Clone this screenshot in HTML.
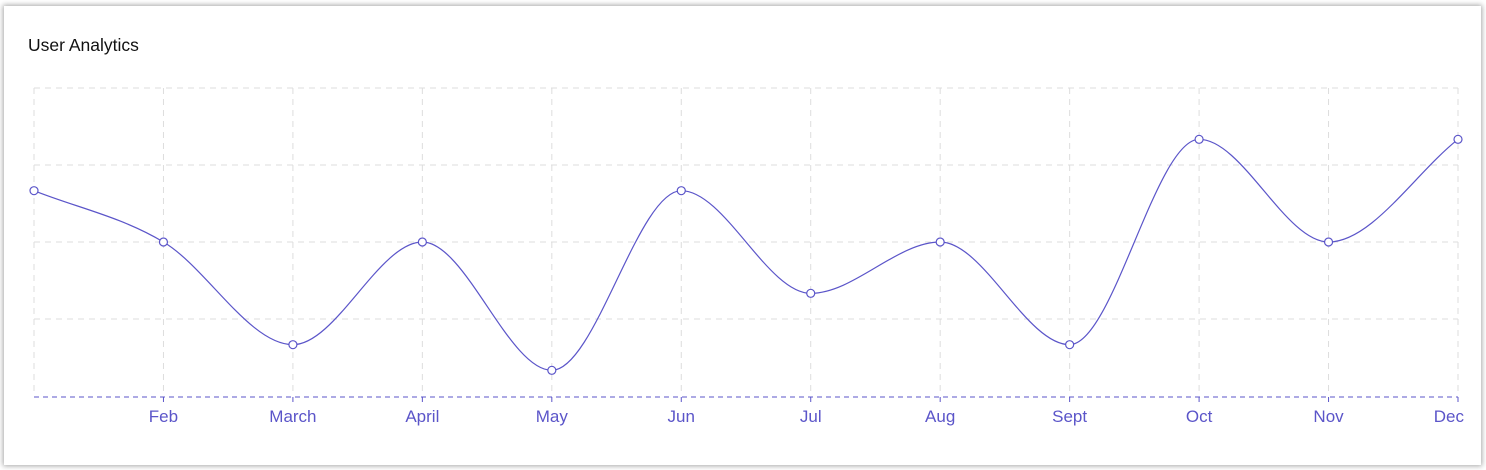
<!DOCTYPE html>
<html><head><meta charset="utf-8"><style>
body{margin:0;background:#fff;width:1486px;height:470px;overflow:hidden;font-family:"Liberation Sans",sans-serif}
.card{position:absolute;left:4px;top:6px;width:1477px;height:459px;background:#fff;box-shadow:0 0 5px 1px rgba(0,0,0,0.35)}
.title{position:absolute;left:24px;top:29px;font-size:17.5px;color:#111}
svg{position:absolute;left:0;top:0}
</style></head><body>
<div class="card">
<div class="title">User Analytics</div>
</div>
<svg id="chart" width="1486" height="470"></svg>
<script>
const categories=["Jan","Feb","March","April","May","Jun","Jul","Aug","Sept","Oct","Nov","Dec"];
const values=[80,60,20,60,10,80,40,60,20,100,60,100];
const yTicks=[0,30,60,90,120];
const NS="http://www.w3.org/2000/svg";
const svg=document.getElementById('chart');
const x0=34,x1=1458,yb=396,yt=88,ymax=120;
const X=i=>x0+(x1-x0)*i/(categories.length-1);
const Y=v=>yb-(yb-yt)*v/ymax;
function mk(t,a){const e=document.createElementNS(NS,t);for(const k in a)e.setAttribute(k,a[k]);svg.appendChild(e);return e;}
yTicks.forEach(t=>{if(t===0)return;const l=mk('line',{x1:x0,x2:x1,y1:Y(t),y2:Y(t),stroke:'#ddd','stroke-dasharray':'6,5'});

});
categories.forEach((c,i)=>{const l=mk('line',{x1:X(i),x2:X(i),y1:yt,y2:yb,stroke:'#ddd','stroke-dasharray':'6,5'});

});
const ax=mk('line',{x1:x0,x2:x1,y1:yb+1,y2:yb+1,stroke:'#5b55c9','stroke-dasharray':'5,4','stroke-width':1});


categories.forEach((c,i)=>{if(i===0)return;
const tk=mk('line',{x1:X(i),x2:X(i),y1:yb+1,y2:yb+6,stroke:'#5b55c9'});


const tx=mk('text',{x:X(i),y:422,'text-anchor':'middle','font-size':'17','fill':'#5b55c9','font-family':'Liberation Sans, sans-serif'});
tx.textContent=c;


if(i===categories.length-1){tx.setAttribute('text-anchor','end');tx.setAttribute('x',1464);}
});
const px=categories.map((c,i)=>X(i)),py=values.map(Y);const n=px.length;
const d=[],m=[];for(let i=0;i<n-1;i++)d.push((py[i+1]-py[i])/(px[i+1]-px[i]));
for(let i=0;i<n;i++){if(i===0)m.push(d[0]);else if(i===n-1)m.push(d[n-2]);else m.push(d[i-1]*d[i]<=0?0:(d[i-1]+d[i])/2);}
for(let i=0;i<n-1;i++){if(d[i]===0){m[i]=0;m[i+1]=0;continue;}const a=m[i]/d[i],b=m[i+1]/d[i],s=a*a+b*b;if(s>9){const t=3/Math.sqrt(s);m[i]=t*a*d[i];m[i+1]=t*b*d[i];}}
let p=`M${px[0]},${py[0]}`;
for(let i=0;i<n-1;i++){const h=(px[i+1]-px[i])/3;p+=`C${px[i]+h},${py[i]+m[i]*h} ${px[i+1]-h},${py[i+1]-m[i+1]*h} ${px[i+1]},${py[i+1]}`;}
const line=mk('path',{d:p,fill:'none',stroke:'#5b55c9','stroke-width':1.2});


values.forEach((v,i)=>{const c=mk('circle',{cx:X(i),cy:Y(v),r:4,fill:'#fff',stroke:'#5b55c9','stroke-width':1.2});

});
</script>
</body></html>
